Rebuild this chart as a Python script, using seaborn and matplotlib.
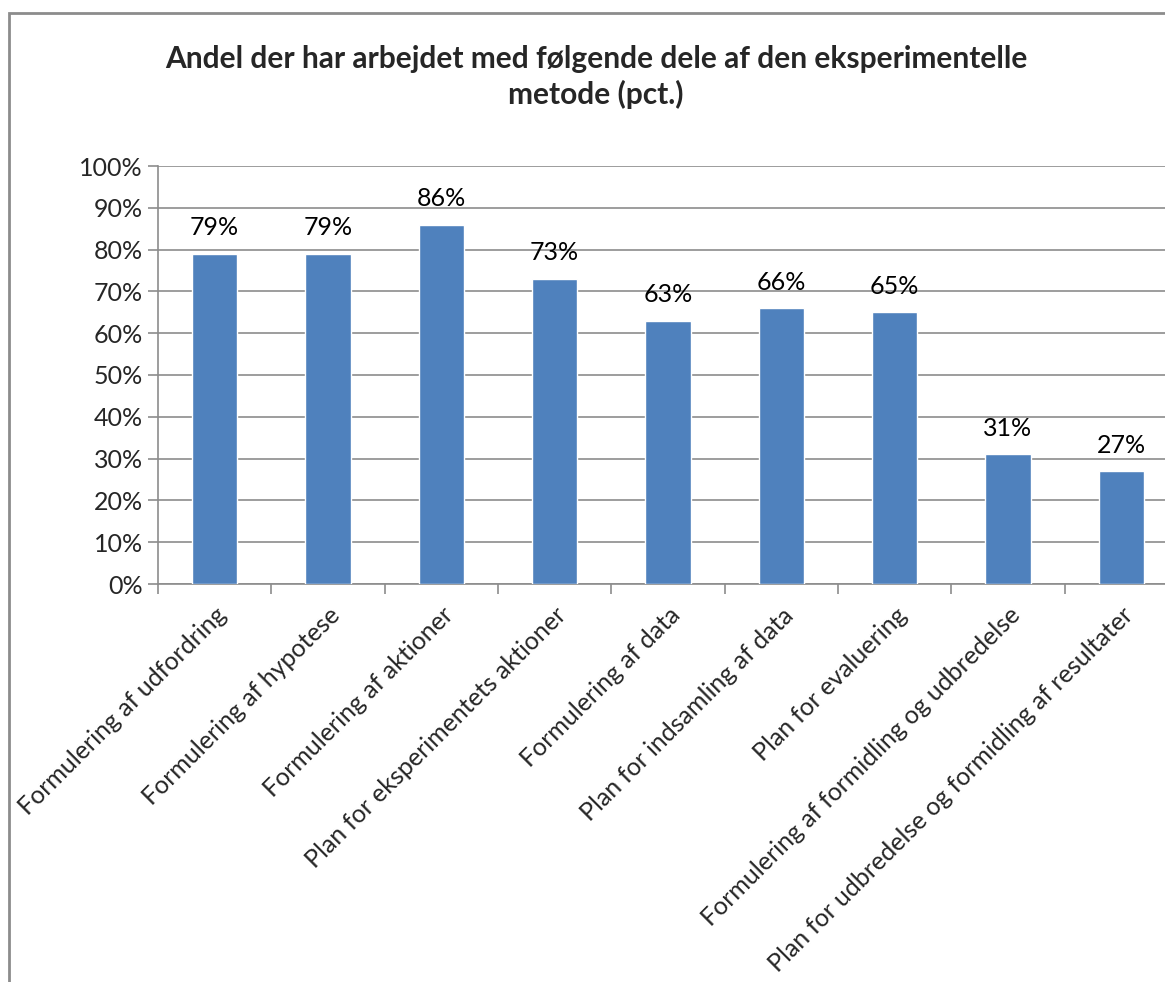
import matplotlib
matplotlib.use("Agg")
import matplotlib.pyplot as plt
import matplotlib.patches as mpatches
import seaborn as sns
import pandas as pd

# data
categories = [
    "Formulering af udfordring",
    "Formulering af hypotese",
    "Formulering af aktioner",
    "Plan for eksperimentets aktioner",
    "Formulering af data",
    "Plan for indsamling af data",
    "Plan for evaluering",
    "Formulering af formidling og udbredelse",
    "Plan for udbredelse og formidling af resultater",
]
values = [79, 79, 86, 73, 63, 66, 65, 31, 27]
yticks = [0, 10, 20, 30, 40, 50, 60, 70, 80, 90, 100]

df = pd.DataFrame({"del": categories, "pct": values})

sns.set_style("white")
plt.rcParams["font.family"] = ["Lato", "DejaVu Sans"]

fig = plt.figure(figsize=(11.65, 9.82), dpi=100)
ax = fig.add_axes([158 / 1165, 1 - 584 / 982, 1020 / 1165, 418 / 982])

sns.barplot(data=df, x="del", y="pct", color="#4F81BD", width=0.4,
            saturation=1, ax=ax, zorder=3)

# value labels above bars
for i, v in enumerate(values):
    ax.text(i, v + 6.2, f"{v}%", ha="center", va="center", fontsize=18,
            color="black")

ax.set_ylim(0, 100)
ax.set_xlim(-0.5, len(categories) - 0.5)
ax.set_yticks(yticks)
ax.set_yticklabels([f"{t}%" for t in yticks], fontsize=18)
ax.yaxis.grid(True, color="#8C8C8C", linewidth=1.2, zorder=0)
ax.tick_params(axis="y", which="both", length=7, width=1.2, color="#8C8C8C",
               direction="out", left=True, pad=4)

# ticks between categories, labels at bar centres
ax.set_xticks([i - 0.5 for i in range(len(categories) + 1)])
ax.set_xticklabels([])
ax.set_xticks(range(len(categories)), minor=True)
ax.set_xticklabels(categories, minor=True, rotation=45, ha="right",
                   rotation_mode="anchor", fontsize=18)
ax.tick_params(axis="x", which="major", length=7, width=1.2, color="#8C8C8C",
               direction="out", bottom=True)
ax.tick_params(axis="x", which="minor", length=0, pad=14)

ax.set_xlabel("")
ax.set_ylabel("")
for side in ["top", "right"]:
    ax.spines[side].set_visible(False)
for side in ["left", "bottom"]:
    ax.spines[side].set_color("#8C8C8C")
    ax.spines[side].set_linewidth(1.2)

fig.text(596 / 1165, 1 - 77 / 982,
         "Andel der har arbejdet med følgende dele af den eksperimentelle\nmetode (pct.)",
         ha="center", va="center", fontsize=21.5, fontweight="bold",
         linespacing=1.3)

# outer chart frame
fig.patches.append(mpatches.Rectangle((9 / 1165, -0.01), 1.2, 1 - 13 / 982 + 0.01,
                                      transform=fig.transFigure, fill=False,
                                      edgecolor="#8C8C8C", linewidth=2))

fig.savefig("out.png", dpi=100)
